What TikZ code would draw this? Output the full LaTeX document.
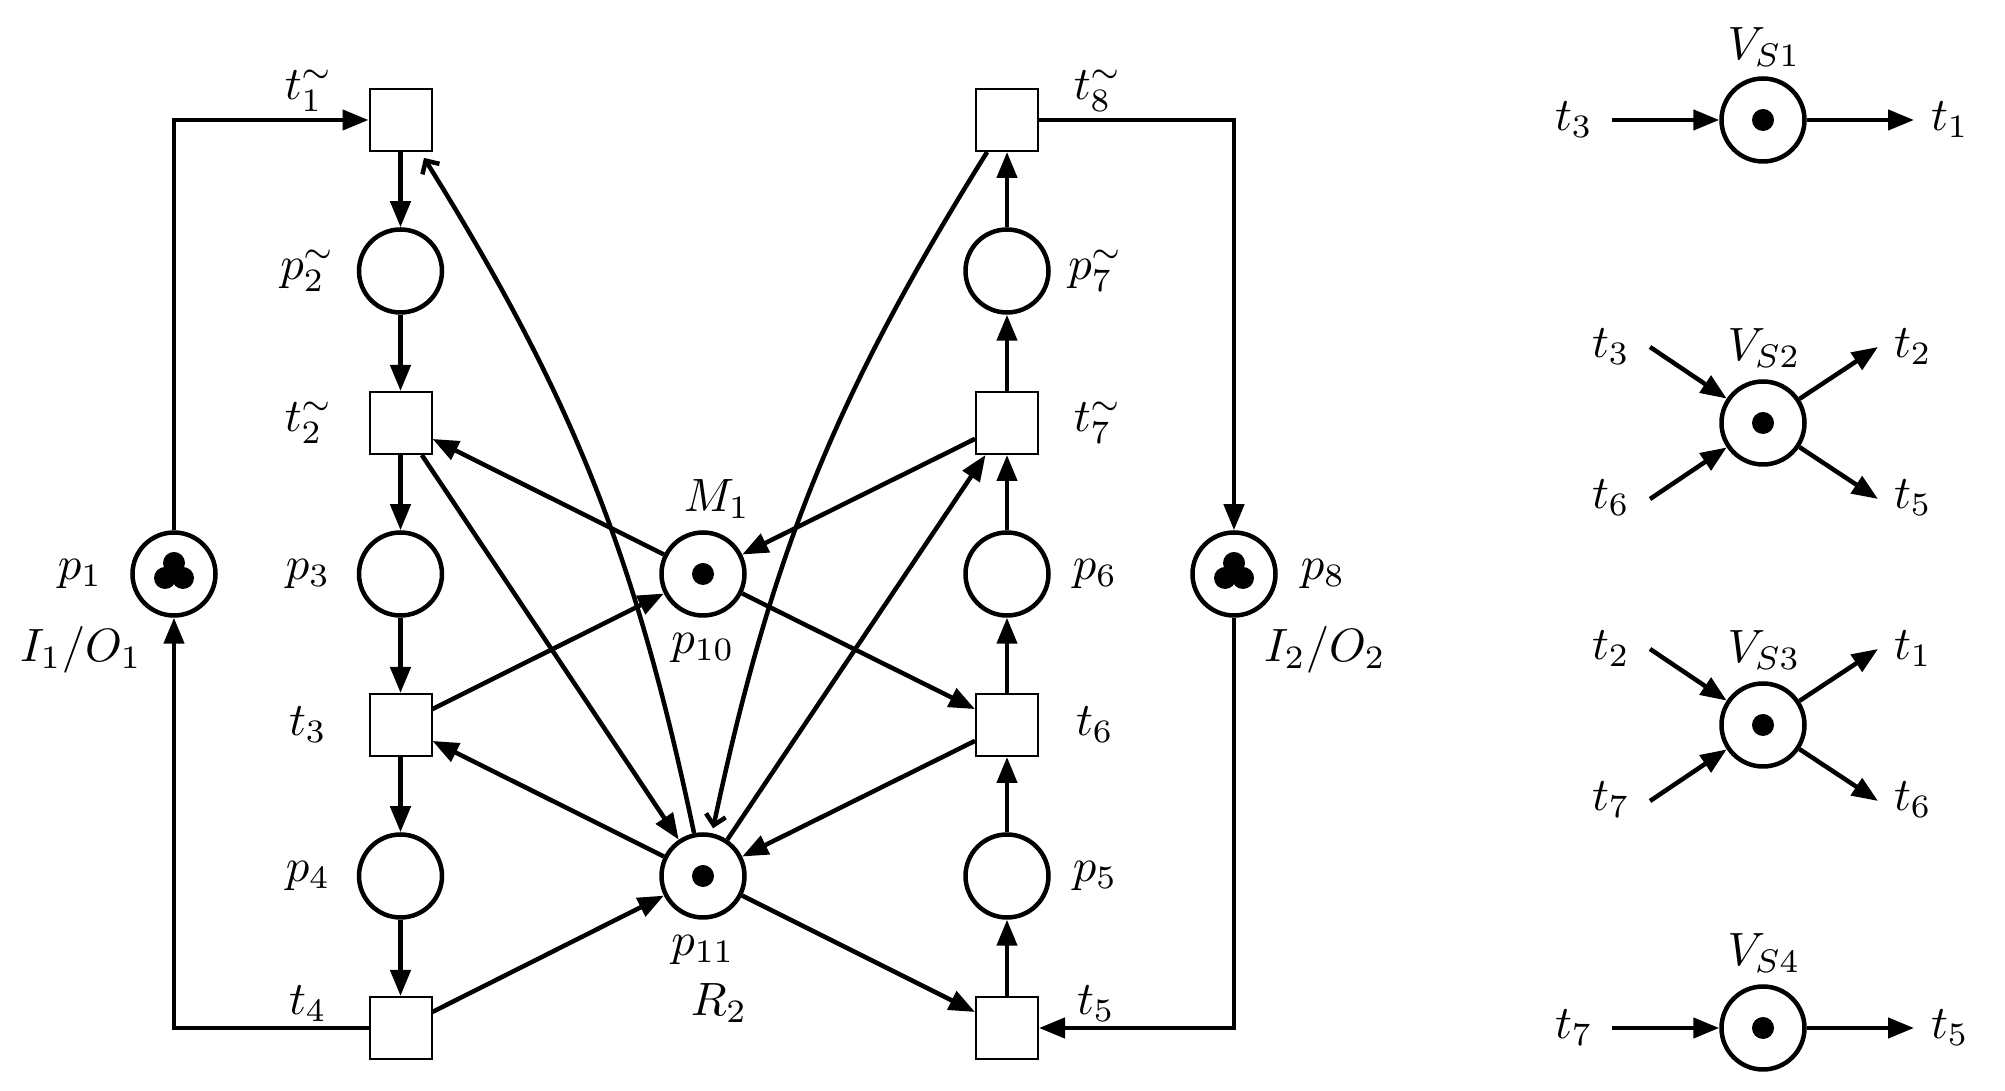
\documentclass[tikz,border=0pt]{standalone}
\usepackage{tikz}
\usetikzlibrary{arrows.meta}

\begin{document}
\begin{tikzpicture}[
  place/.style={
    draw, line width=0.045cm, circle,
    minimum size=0.83cm, inner sep=0pt
  },
  trans/.style={
    draw, line width=0.02cm, rectangle,
    minimum size=0.62cm, inner sep=0pt
  },
  tok/.style={
    fill=black, circle,
    minimum size=0.22cm, inner sep=0pt
  },
  arr/.style={-{Triangle[length=0.26cm,width=0.20cm]}, line width=0.045cm},
  barb/.style={-{Straight Barb[length=0.10cm,width=0.20cm]}, line width=0.045cm},
  lbl/.style={scale=1.33},
]
\useasboundingbox (0,0) rectangle (20.05,10.91);

% left column
\node[trans] (t1) at (4.005, 9.71) {};
\node[place] (p2) at (4.005, 8.20) {};
\node[trans] (t2) at (4.005, 6.68) {};
\node[place] (p3) at (4.005, 5.17) {};
\node[trans] (t3) at (4.005, 3.66) {};
\node[place] (p4) at (4.005, 2.15) {};
\node[trans] (t4) at (4.005, 0.63) {};

% right column
\node[trans] (t8) at (10.07, 9.71) {};
\node[place] (p7) at (10.07, 8.20) {};
\node[trans] (t7) at (10.07, 6.68) {};
\node[place] (p6) at (10.07, 5.17) {};
\node[trans] (t6) at (10.07, 3.66) {};
\node[place] (p5) at (10.07, 2.15) {};
\node[trans] (t5) at (10.07, 0.63) {};

% idle places and resources
\node[place] (p1)  at (1.74, 5.17) {};
\node[place] (p8)  at (12.34, 5.17) {};
\node[place] (p10) at (7.03, 5.17) {};
\node[place] (p11) at (7.03, 2.15) {};

\node[tok] (k1a) at (1.74, 5.28) {};
\node[tok] (k1b) at (1.65, 5.13) {};
\node[tok] (k1c) at (1.83, 5.13) {};
\node[tok] (k8a) at (12.34, 5.28) {};
\node[tok] (k8b) at (12.25, 5.13) {};
\node[tok] (k8c) at (12.43, 5.13) {};
\node[tok] (k10) at (7.03, 5.17) {};
\node[tok] (k11) at (7.03, 2.15) {};

% monitors
\node[place] (v1) at (17.63, 9.71) {};
\node[place] (v2) at (17.63, 6.68) {};
\node[place] (v3) at (17.63, 3.66) {};
\node[place] (v4) at (17.63, 0.63) {};
\node[tok] (kv1) at (17.63, 9.71) {};
\node[tok] (kv2) at (17.63, 6.68) {};
\node[tok] (kv3) at (17.63, 3.66) {};
\node[tok] (kv4) at (17.63, 0.63) {};

\coordinate (v1i) at (16.12, 9.71);
\coordinate (v1o) at (19.14, 9.71);
\coordinate (v2a) at (16.50, 7.44);
\coordinate (v2b) at (16.50, 5.92);
\coordinate (v2c) at (18.78, 7.44);
\coordinate (v2d) at (18.78, 5.92);
\coordinate (v3a) at (16.50, 4.42);
\coordinate (v3b) at (16.50, 2.90);
\coordinate (v3c) at (18.78, 4.42);
\coordinate (v3d) at (18.78, 2.90);
\coordinate (v4i) at (16.12, 0.63);
\coordinate (v4o) at (19.14, 0.63);

% labels
\node[lbl] (lt1) at (3.09, 10.00) {$t_1^{\sim}$};
\node[lbl] (lp2) at (3.08, 8.20) {$p_2^{\sim}$};
\node[lbl] (lt2) at (3.09, 6.68) {$t_2^{\sim}$};
\node[lbl] (lp3) at (3.08, 5.17) {$p_3$};
\node[lbl] (lt3) at (3.08, 3.66) {$t_3$};
\node[lbl] (lp4) at (3.08, 2.15) {$p_4$};
\node[lbl] (lt4) at (3.08, 0.87) {$t_4$};
\node[lbl] (lp1) at (0.80, 5.17) {$p_1$};
\node[lbl] (lio1) at (0.81, 4.41) {$I_1/O_1$};
\node[lbl] (lm1) at (7.17, 5.92) {$M_1$};
\node[lbl] (lp10) at (7.03, 4.43) {$p_{10}$};
\node[lbl] (lp11) at (7.03, 1.41) {$p_{11}$};
\node[lbl] (lr2) at (7.19, 0.88) {$R_2$};
\node[lbl] (lt8) at (10.98, 10.00) {$t_8^{\sim}$};
\node[lbl] (lp7) at (10.96, 8.20) {$p_7^{\sim}$};
\node[lbl] (lt7) at (10.98, 6.68) {$t_7^{\sim}$};
\node[lbl] (lp6) at (10.95, 5.17) {$p_6$};
\node[lbl] (lt6) at (10.95, 3.66) {$t_6$};
\node[lbl] (lp5) at (10.95, 2.15) {$p_5$};
\node[lbl] (lt5) at (10.96, 0.87) {$t_5$};
\node[lbl] (lp8) at (13.23, 5.17) {$p_8$};
\node[lbl] (lio2) at (13.25, 4.41) {$I_2/O_2$};

\node[lbl] (lv1)  at (17.64, 10.44) {$V_{S1}$};
\node[lbl] (lv1i) at (15.74, 9.71) {$t_3$};
\node[lbl] (lv1o) at (19.50, 9.71) {$t_1$};
\node[lbl] (lv2)  at (17.64, 7.43) {$V_{S2}$};
\node[lbl] (lv2a) at (16.11, 7.44) {$t_3$};
\node[lbl] (lv2b) at (16.11, 5.93) {$t_6$};
\node[lbl] (lv2c) at (19.13, 7.44) {$t_2$};
\node[lbl] (lv2d) at (19.13, 5.93) {$t_5$};
\node[lbl] (lv3)  at (17.64, 4.41) {$V_{S3}$};
\node[lbl] (lv3a) at (16.11, 4.42) {$t_2$};
\node[lbl] (lv3b) at (16.11, 2.91) {$t_7$};
\node[lbl] (lv3c) at (19.13, 4.42) {$t_1$};
\node[lbl] (lv3d) at (19.13, 2.91) {$t_6$};
\node[lbl] (lv4)  at (17.64, 1.38) {$V_{S4}$};
\node[lbl] (lv4i) at (15.74, 0.63) {$t_7$};
\node[lbl] (lv4o) at (19.50, 0.63) {$t_5$};

% columns
\draw[arr] (t1) -- (p2);
\draw[arr] (p2) -- (t2);
\draw[arr] (t2) -- (p3);
\draw[arr] (p3) -- (t3);
\draw[arr] (t3) -- (p4);
\draw[arr] (p4) -- (t4);
\draw[arr] (t5) -- (p5);
\draw[arr] (p5) -- (t6);
\draw[arr] (t6) -- (p6);
\draw[arr] (p6) -- (t7);
\draw[arr] (t7) -- (p7);
\draw[arr] (p7) -- (t8);

% outer loops
\draw[arr] (p1) |- (t1);
\draw[arr] (t4) -| (p1);
\draw[arr] (t8) -| (p8);
\draw[arr] (p8) |- (t5);

% resources
\draw[arr] (t3)  -- (p10);
\draw[arr] (p10) -- (t2);
\draw[arr] (t7)  -- (p10);
\draw[arr] (p10) -- (t6);
\draw[arr] (t2)  -- (p11);
\draw[arr] (p11) -- (t3);
\draw[arr] (t4)  -- (p11);
\draw[arr] (p11) -- (t5);
\draw[arr] (t6)  -- (p11);
\draw[arr] (p11) -- (t7);
\draw[barb, shorten >=0.07cm] (p11) to[bend right=10] (t1);
\draw[barb, shorten >=0.05cm] (t8)  to[bend right=10] (p11);

% monitors
\draw[arr] (v1i) -- (v1);
\draw[arr] (v1)  -- (v1o);
\draw[arr] (v2a) -- (v2);
\draw[arr] (v2b) -- (v2);
\draw[arr] (v2)  -- (v2c);
\draw[arr] (v2)  -- (v2d);
\draw[arr] (v3a) -- (v3);
\draw[arr] (v3b) -- (v3);
\draw[arr] (v3)  -- (v3c);
\draw[arr] (v3)  -- (v3d);
\draw[arr] (v4i) -- (v4);
\draw[arr] (v4)  -- (v4o);

\end{tikzpicture}
\end{document}
